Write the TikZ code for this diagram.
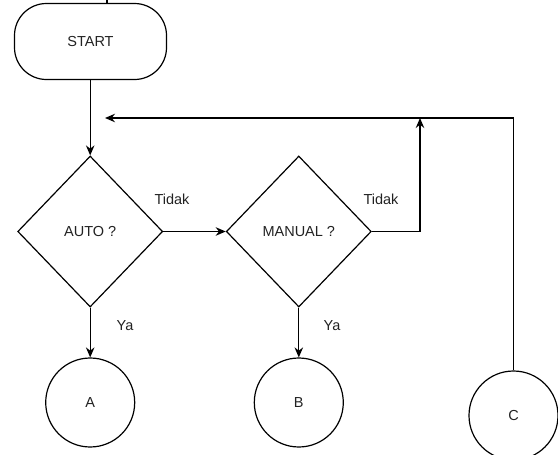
\documentclass[tikz,border=0pt]{standalone}
\usepackage{fontspec}
\setmainfont{Liberation Sans}
\usetikzlibrary{shapes.geometric,arrows.meta}
\definecolor{ink}{HTML}{222222}
\begin{document}
\begin{tikzpicture}[x=1pt,y=-1pt,
  every node/.style={font=\fontsize{14.5pt}{17pt}\selectfont,text=ink},
  base/.style={draw=black,line width=1.2pt},
  terminal/.style={base,rectangle,rounded corners=32pt,minimum width=152pt,minimum height=76pt,inner sep=0pt},
  decision/.style={base,diamond,minimum width=145pt,minimum height=151pt,inner sep=0pt},
  connector/.style={base,circle,minimum size=89pt,inner sep=0pt},
  flow/.style={line width=1.2pt,-{Stealth[length=10pt,width=8.5pt]}},
  plain/.style={line width=1.2pt},
  lbl/.style={inner sep=0pt}]
\useasboundingbox (0,0) rectangle (558,455);

% nodes
\node[terminal] (start) at (90.5,41.5) {START};
\node[decision] (auto) at (90.2,231.5) {AUTO ?};
\node[decision] (manual) at (298.8,231.5) {MANUAL ?};
\node[connector] (a) at (90.2,402.5) {A};
\node[connector] (b) at (298.8,402.5) {B};
\node[connector] (c) at (513.5,415.5) {C};

% free ends of the loop-back lines
\coordinate (top) at (107,0);
\coordinate (back) at (105,118);
\coordinate (join) at (420,118);

% connectors
\draw[plain] (top) -- (top |- start.north);
\draw[flow] (start.south -| auto.north) -- (auto.north);
\draw[flow] (auto.east) -- (manual.west);
\draw[flow] (manual.east) -| (join);
\draw[flow] (c.north) |- (back);
\draw[flow] (auto.south) -- (a.north);
\draw[flow] (manual.south) -- (b.north);

% branch labels
\node[lbl] (t1) at (172,199) {Tidak};
\node[lbl] (t2) at (381,199) {Tidak};
\node[lbl] (y1) at (125,326) {Ya};
\node[lbl] (y2) at (332,326) {Ya};
\end{tikzpicture}
\end{document}
